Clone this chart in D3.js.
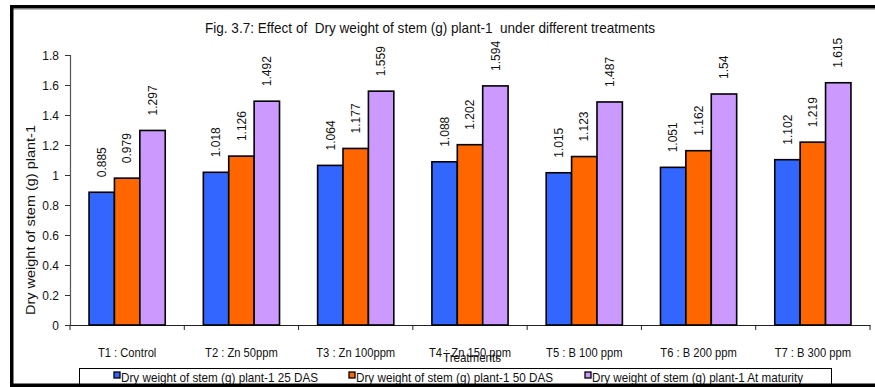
<!DOCTYPE html>
<html>
<head>
<meta charset="utf-8">
<script src="https://cdn.jsdelivr.net/npm/d3@7/dist/d3.min.js"></script>
<style>
  html, body { margin: 0; padding: 0; background: #fff; }
  svg { display: block; font-family: "Liberation Sans", Arial, sans-serif; }
  text { white-space: pre; }
</style>
</head>
<body>
<svg id="chart" width="875" height="387"></svg>
<script>
// Treatments and dry weight of stem (g) per plant at three stages
const categories = ["T1 : Control", "T2 : Zn 50ppm", "T3 : Zn 100ppm", "T4 : Zn 150 ppm",
                    "T5 : B 100 ppm", "T6 : B 200 ppm", "T7 : B 300 ppm"];
const seriesNames = ["Dry weight of stem (g) plant-1 25 DAS",
                     "Dry weight of stem (g) plant-1 50 DAS",
                     "Dry weight of stem (g) plant-1 At maturity"];
const das25 = [0.885, 1.018, 1.064, 1.088, 1.015, 1.051, 1.102];
const das50 = [0.979, 1.126, 1.177, 1.202, 1.123, 1.162, 1.219];
const maturity = [1.297, 1.492, 1.559, 1.594, 1.487, 1.54, 1.615];
const yTicks = [0, 0.2, 0.4, 0.6, 0.8, 1, 1.2, 1.4, 1.6, 1.8];
const colors = ["#3366FF", "#FF6600", "#CC99FF"];

const seriesValues = [das25, das50, maturity];

const svg = d3.select("#chart");
const plot = { left: 70, right: 870, top: 55, bottom: 325 };

const x = d3.scaleBand().domain(categories).range([plot.left, plot.right]).padding(0);
const y = d3.scaleLinear().domain([0, 1.8]).range([plot.bottom, plot.top]);
const inner = d3.scaleBand().domain(d3.range(seriesNames.length))
  .range([0, x.bandwidth()]).paddingOuter(0.75).paddingInner(0);

// Narrow a text element to a fraction of its natural width
function condense(sel, factor) {
  sel.each(function () {
    const w = this.getComputedTextLength();
    d3.select(this).attr("textLength", w * factor).attr("lengthAdjust", "spacingAndGlyphs");
  });
}

// Title
svg.append("text")
  .attr("x", 430).attr("y", 33)
  .attr("text-anchor", "middle")
  .attr("font-size", 15)
  .attr("textLength", 450).attr("lengthAdjust", "spacingAndGlyphs")
  .attr("fill", "#111")
  .text("Fig. 3.7: Effect of  Dry weight of stem (g) plant-1  under different treatments");

// Y axis
const yAxis = svg.append("g")
  .attr("transform", `translate(${plot.left},0)`)
  .call(d3.axisLeft(y).tickValues(yTicks).tickSize(5).tickPadding(6)
    .tickFormat(d => d3.format("")(+d.toFixed(1))));
yAxis.select(".domain").attr("stroke", "#555").attr("stroke-width", 1.2);
yAxis.selectAll(".tick line").attr("stroke", "#333");
yAxis.selectAll(".tick text").attr("font-size", 13).attr("fill", "#111")
  .attr("font-family", "'Liberation Sans', Arial, sans-serif")
  .call(condense, 0.92);

// X axis
const xAxis = svg.append("g")
  .attr("transform", `translate(0,${plot.bottom})`)
  .call(d3.axisBottom(x).tickSize(0).tickPadding(0).tickFormat(""));
xAxis.select(".domain").attr("stroke", "#222").attr("stroke-width", 1.2);
xAxis.selectAll(".tick").remove();
const boundaries = categories.map(c => x(c)).concat([x(categories[categories.length - 1]) + x.bandwidth()]);
svg.append("g").selectAll("line").data(boundaries).join("line")
  .attr("x1", d => d).attr("x2", d => d)
  .attr("y1", plot.bottom).attr("y2", plot.bottom + 5)
  .attr("stroke", "#222").attr("stroke-width", 1);

svg.append("g").selectAll("text").data(categories).join("text")
  .attr("x", d => x(d) + x.bandwidth() / 2)
  .attr("y", 357)
  .attr("text-anchor", "middle")
  .attr("font-size", 13)
  .attr("fill", "#111")
  .text(d => d)
  .call(condense, 0.86);

// Bars
const groups = svg.append("g").selectAll("g").data(seriesValues).join("g")
  .attr("fill", (d, i) => colors[i]);
groups.each(function (vals, si) {
  const g = d3.select(this);
  g.selectAll("rect").data(vals).join("rect")
    .attr("x", (v, ci) => x(categories[ci]) + inner(si))
    .attr("y", v => y(v))
    .attr("width", inner.bandwidth())
    .attr("height", v => y(0) - y(v))
    .attr("stroke", "#000").attr("stroke-width", 1.6);
  g.selectAll("text").data(vals).join("text")
    .attr("transform", (v, ci) => {
      const cx = x(categories[ci]) + inner(si) + inner.bandwidth() / 2;
      return `translate(${cx},${y(v) - 15}) rotate(-90)`;
    })
    .attr("dy", "0.35em")
    .attr("font-size", 12)
    .attr("fill", "#111")
    .text(v => String(v));
});

// Axis titles
svg.append("text")
  .attr("transform", `translate(35,${(125 + 315) / 2}) rotate(-90)`)
  .attr("text-anchor", "middle")
  .attr("font-size", 13)
  .attr("fill", "#111")
  .attr("textLength", 190).attr("lengthAdjust", "spacingAndGlyphs")
  .text("Dry weight of stem (g) plant-1");

svg.append("text")
  .attr("x", (plot.left + plot.right) / 2 + 2).attr("y", 362)
  .attr("text-anchor", "middle")
  .attr("font-size", 13)
  .attr("fill", "#111")
  .attr("textLength", 58).attr("lengthAdjust", "spacingAndGlyphs")
  .text("Treatments");

// Legend
const legend = svg.append("g");
legend.append("rect")
  .attr("x", 79.5).attr("y", 368.5).attr("width", 752).attr("height", 20)
  .attr("fill", "#fff").attr("stroke", "#000").attr("stroke-width", 1);
const legendX = [114, 349, 585];
const legendW = [197, 197, 211];
const items = legend.selectAll("g").data(seriesNames).join("g")
  .attr("transform", (d, i) => `translate(${legendX[i]},0)`);
items.append("rect")
  .attr("x", 0).attr("y", 372).attr("width", 6).attr("height", 6)
  .attr("fill", (d, i) => colors[i])
  .attr("stroke", "#000").attr("stroke-width", 1.3);
items.append("text")
  .attr("x", 7).attr("y", 381.5)
  .attr("font-size", 13)
  .attr("fill", "#111")
  .attr("textLength", (d, i) => legendW[i]).attr("lengthAdjust", "spacingAndGlyphs")
  .text(d => d);

// Outer frame
const frame = svg.append("g");
frame.append("rect").attr("x", 10).attr("y", 5).attr("width", 865).attr("height", 3.5).attr("fill", "#000");
frame.append("rect").attr("x", 10).attr("y", 9).attr("width", 865).attr("height", 1).attr("fill", "#bbb");
frame.append("rect").attr("x", 10).attr("y", 5).attr("width", 3.5).attr("height", 382).attr("fill", "#000");
frame.append("rect").attr("x", 10).attr("y", 383.5).attr("width", 865).attr("height", 3.5).attr("fill", "#000");
</script>
</body>
</html>
